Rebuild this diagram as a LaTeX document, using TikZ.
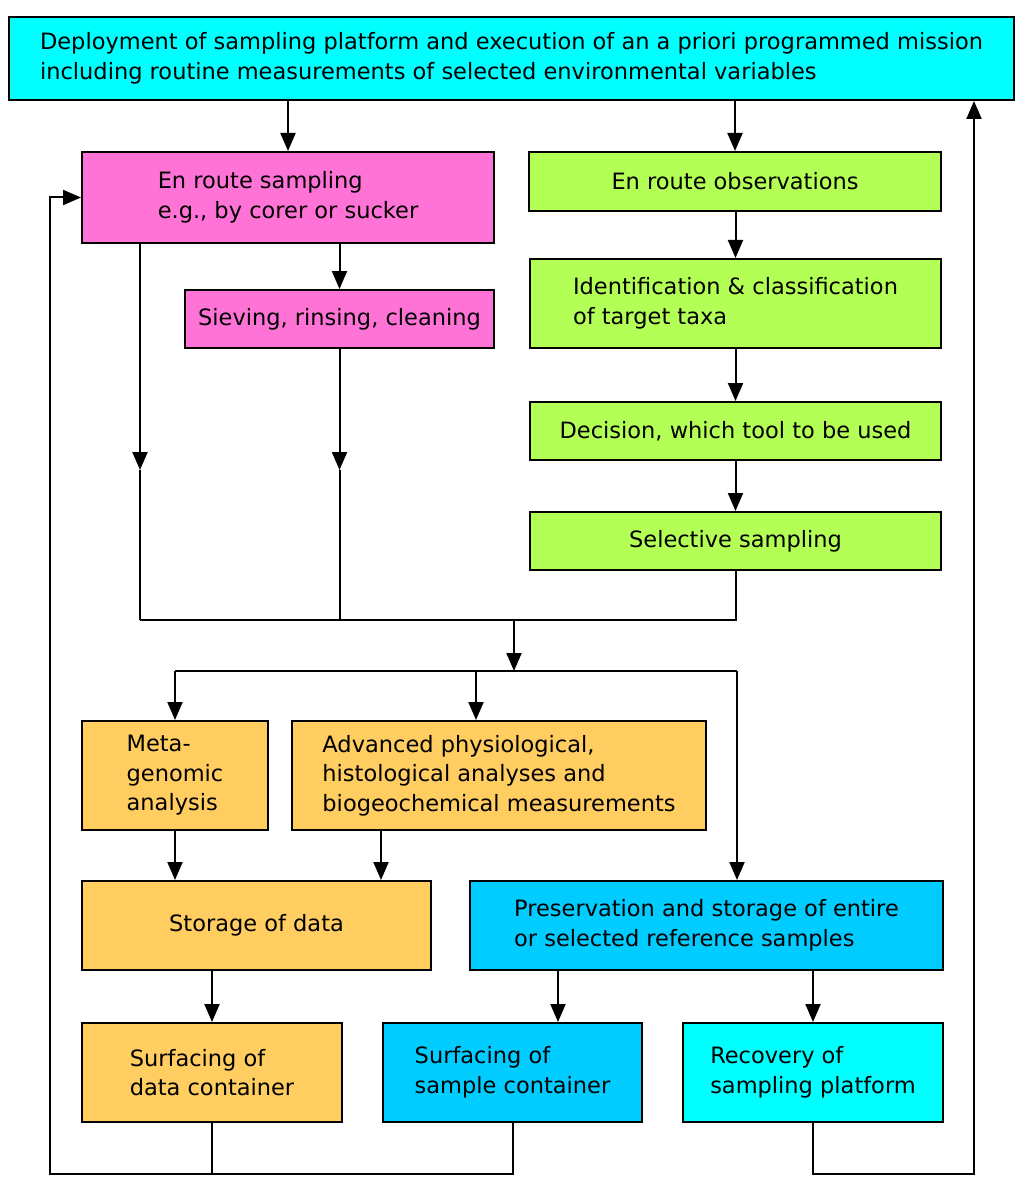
\documentclass[tikz,border=0pt]{standalone}
\usepackage{fontspec}
\setmainfont{DejaVu Sans}
\usetikzlibrary{arrows.meta}
\definecolor{cyanbox}{HTML}{00FFFF}
\definecolor{pinkbox}{HTML}{FF73D6}
\definecolor{greenbox}{HTML}{B4FF55}
\definecolor{orangebox}{HTML}{FFCD60}
\definecolor{bluebox}{HTML}{00CCFF}
\begin{document}
\begin{tikzpicture}[x=0.5pt,y=-0.5pt,
  every path/.style={line width=1pt},
  >={Triangle[length=9pt,width=7.5pt]},
  arr/.style={->},
  box/.style={draw=black,line width=1pt,align=left,inner sep=0pt,
    font=\fontsize{11.25}{14.75}\selectfont}]
\useasboundingbox (0,0) rectangle (1024,1182);
% boxes
\node[box,fill=cyanbox,minimum width=502.5pt,minimum height=41.5pt] (top) at (511.5,58.5)
  {Deployment of sampling platform and execution of an a priori programmed mission\\including routine measurements of selected environmental variables};
\node[box,fill=pinkbox,minimum width=206pt,minimum height=45.5pt] (ers) at (288,197.5)
  {En route sampling\\e.g., by corer or sucker};
\node[box,fill=pinkbox,minimum width=154.5pt,minimum height=29pt] (sieve) at (339.5,319)
  {Sieving, rinsing, cleaning};
\node[box,fill=greenbox,minimum width=206pt,minimum height=29.5pt] (obs) at (735,181.5)
  {En route observations};
\node[box,fill=greenbox,minimum width=205.5pt,minimum height=44.5pt] (ident) at (735.5,303.5)
  {Identification \& classification\\of target taxa};
\node[box,fill=greenbox,minimum width=205.5pt,minimum height=29pt] (decision) at (735.5,431)
  {Decision, which tool to be used};
\node[box,fill=greenbox,minimum width=205.5pt,minimum height=29pt] (select) at (735.5,541)
  {Selective sampling};
\node[box,fill=orangebox,minimum width=93pt,minimum height=54.5pt] (meta) at (175,775.5)
  {Meta-\\genomic\\analysis};
\node[box,fill=orangebox,minimum width=207pt,minimum height=54.5pt] (adv) at (499,775.5)
  {Advanced physiological,\\histological analyses and\\biogeochemical measurements};
\node[box,fill=orangebox,minimum width=174.5pt,minimum height=44.5pt] (storage) at (256.5,925.5)
  {Storage of data};
\node[box,fill=bluebox,minimum width=236.5pt,minimum height=44.5pt] (pres) at (706.5,925.5)
  {Preservation and storage of entire\\or selected reference samples};
\node[box,fill=orangebox,minimum width=130pt,minimum height=49.5pt] (surfd) at (212,1072.5)
  {Surfacing of\\data container};
\node[box,fill=bluebox,minimum width=129.5pt,minimum height=49.5pt] (surfs) at (512.5,1072.5)
  {Surfacing of\\sample container};
\node[box,fill=cyanbox,minimum width=130pt,minimum height=49.5pt] (recov) at (813,1072.5)
  {Recovery of\\sampling platform};
% coordinates
\coordinate (m1) at (140,470);
\coordinate (j1) at (140,620);
\coordinate (m2) at (339.5,470);
\coordinate (f1) at (514,620);
\coordinate (f2) at (514,671);
\coordinate (f3) at (737,671);
\coordinate (f4) at (476,671);
\coordinate (x381) at (381,0);
\coordinate (x558) at (558,0);
\coordinate (b1) at (50,1174);
\coordinate (b2) at (974,1174);
% connectors
\draw[arr] (top.south -| ers.north) -- (ers.north);
\draw[arr] (top.south -| obs.north) -- (obs.north);
\draw[arr] (obs.south -| ident.north) -- (ident.north);
\draw[arr] (ident.south) -- (decision.north);
\draw[arr] (decision.south) -- (select.north);
\draw[arr] (ers.south -| sieve.north) -- (sieve.north);
\draw[arr] (ers.south -| m1) -- (m1);
\draw (m1) -- (j1);
\draw[arr] (sieve.south) -- (m2);
\draw (m2) -- (m2 |- j1);
\draw (select.south) |- (j1);
\draw[arr] (f1) -- (f2);
\draw (meta.north |- f2) -- (f3);
\draw[arr] (meta.north |- f2) -- (meta.north);
\draw[arr] (f4) -- (f4 |- adv.north);
\draw[arr] (f3) -- (f3 |- pres.north);
\draw[arr] (meta.south) -- (meta.south |- storage.north);
\draw[arr] (adv.south -| x381) -- (storage.north -| x381);
\draw[arr] (storage.south -| surfd.north) -- (surfd.north);
\draw[arr] (pres.south -| x558) -- (surfs.north -| x558);
\draw[arr] (pres.south -| recov.north) -- (recov.north);
\draw (surfd.south) -- (surfd.south |- b1);
\draw[arr] (surfs.south) |- (b1) |- (ers.west);
\draw[arr] (recov.south) |- (b2) -- (b2 |- top.south);
\end{tikzpicture}
\end{document}
